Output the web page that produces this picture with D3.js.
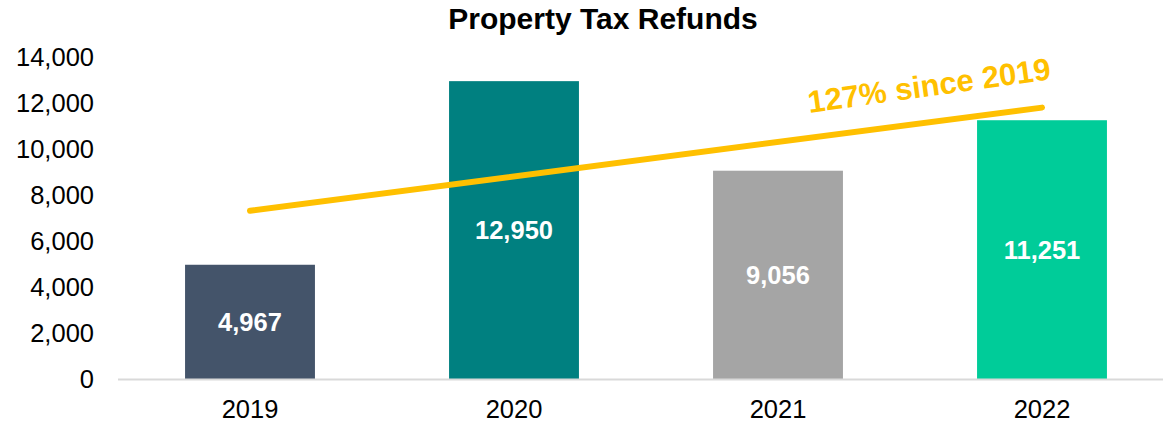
<!DOCTYPE html>
<html>
<head>
<meta charset="utf-8">
<script src="https://cdn.jsdelivr.net/npm/d3@7"></script>
<style>
  html, body { margin: 0; padding: 0; background: #fff; }
  svg { display: block; font-family: Arial, "Liberation Sans", sans-serif; }
</style>
</head>
<body>
<svg id="chart" width="1163" height="425"></svg>
<script>
const years = ["2019", "2020", "2021", "2022"];
const refunds = [4967, 12950, 9056, 11251];
const barColors = ["#44546A", "#008080", "#A5A5A5", "#00CC99"];
const yTicks = [0, 2000, 4000, 6000, 8000, 10000, 12000, 14000];
const trendValues = [7312, 11800]; // linear trendline at 2019 and 2022
const trendLabel = "127% since 2019";
const title = "Property Tax Refunds";

const svg = d3.select("#chart");
const W = 1163, H = 425;

const x = d3.scaleBand().domain(years).range([118, 1174]).paddingInner(0.508).paddingOuter(0.254);
const y = d3.scaleLinear().domain([0, 14000]).range([379, 57]);

// title
svg.append("text")
  .attr("x", 603).attr("y", 29)
  .attr("text-anchor", "middle")
  .style("font-size", "30px").style("font-weight", "bold").style("fill", "#000")
  .text(title);

// y axis (labels only)
const yAxis = d3.axisLeft(y).tickValues(yTicks).tickFormat(d3.format(",")).tickSize(0).tickPadding(0);
const gy = svg.append("g").attr("transform", "translate(94,0)").call(yAxis);
gy.select(".domain").remove();
gy.selectAll("text").style("font-size", "25.5px").style("fill", "#000").attr("font-family", null);

// bars
svg.append("g").selectAll("rect").data(years).join("rect")
  .attr("x", d => x(d))
  .attr("y", (d, i) => y(refunds[i]))
  .attr("width", x.bandwidth())
  .attr("height", (d, i) => y(0) - y(refunds[i]))
  .attr("fill", (d, i) => barColors[i]);

// x axis
const xAxis = d3.axisBottom(x).tickSize(0).tickPadding(0);
const gx = svg.append("g").attr("transform", `translate(0,${y(0)})`).call(xAxis);
gx.select(".domain").remove();
gx.selectAll("text").style("font-size", "25.5px").style("fill", "#000").attr("dy", null).attr("y", 39).attr("font-family", null);
svg.append("line")
  .attr("x1", 118).attr("x2", W)
  .attr("y1", y(0) + 0.5).attr("y2", y(0) + 0.5)
  .attr("stroke", "#D9D9D9").attr("stroke-width", 2);

// bar value labels
svg.append("g").selectAll("text").data(years).join("text")
  .attr("x", d => x(d) + x.bandwidth() / 2)
  .attr("y", (d, i) => (y(refunds[i]) + y(0)) / 2)
  .attr("dy", "0.36em")
  .attr("text-anchor", "middle")
  .style("font-size", "25.5px").style("font-weight", "bold").style("fill", "#fff")
  .text((d, i) => d3.format(",")(refunds[i]));

// trend line
const tx = [x(years[0]) + x.bandwidth() / 2, x(years[years.length - 1]) + x.bandwidth() / 2];
svg.append("line")
  .attr("x1", tx[0]).attr("y1", y(trendValues[0]))
  .attr("x2", tx[1]).attr("y2", y(trendValues[1]))
  .attr("stroke", "#FFC000").attr("stroke-width", 6).attr("stroke-linecap", "round");

// trend label
const angle = Math.atan2(y(trendValues[1]) - y(trendValues[0]), tx[1] - tx[0]) * 180 / Math.PI - 0.5;
svg.append("text")
  .attr("transform", `translate(929,85) rotate(${angle})`)
  .attr("text-anchor", "middle")
  .attr("dy", "0.36em")
  .style("font-size", "31px").style("font-weight", "bold").style("fill", "#FFC000")
  .text(trendLabel);
</script>
</body>
</html>
